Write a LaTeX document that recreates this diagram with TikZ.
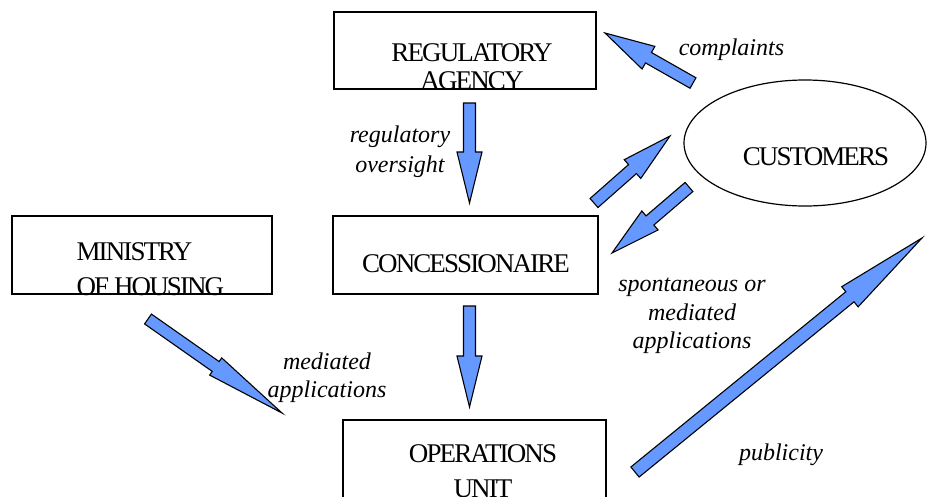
\documentclass[tikz,border=0pt]{standalone}
\usepackage{fontspec}
\setmainfont{Liberation Serif}
\newfontfamily\capsfont[LetterSpace=-7]{Liberation Serif}
\usepackage{tikz}
\usetikzlibrary{calc, shapes.geometric}
\definecolor{flowblue}{RGB}{102,153,255}
\tikzset{
    actor/.style={draw, line width=1.2pt, inner sep=0pt},
    crowd/.style={draw, ellipse, line width=1.2pt, inner sep=0pt},
    actortext/.style={font=\capsfont\fontsize{27}{28}\selectfont, align=center, inner sep=0pt},
    flowtext/.style={font=\itshape\fontsize{24}{28}\selectfont, align=center, inner sep=0pt},
    flowarrow/.style={draw, fill=flowblue, line width=1.1pt, line join=miter} }
% tail, tip, half shaft, half head, head length
\newcommand{\blockarrow}[5]{%
  \coordinate (ba-base) at ($(#2)!#5!(#1)$);
  \draw[flowarrow] ($(#1)!#3!90:(#2)$) -- ($(ba-base)!#3!90:(#2)$) --
      ($(ba-base)!#4!90:(#2)$) -- (#2) -- ($(ba-base)!#4!-90:(#2)$) --
      ($(ba-base)!#3!-90:(#2)$) -- ($(#1)!#3!-90:(#2)$) -- cycle;}

\begin{document}
\begin{tikzpicture}[x=1pt, y=-1pt]
      \useasboundingbox (0,0) rectangle (927,496);
      \clip (0,0) rectangle (927,496);
      % ---- boxes
      \node[actor, minimum width=262pt, minimum height=77pt] (agency) at (465,50.5) {};
      \node[actortext] (agency-t) at ($(agency)+(7,16)$) {REGULATORY\\AGENCY};
      \node[actor, minimum width=260pt, minimum height=78pt] (ministry) at (142,255) {};
      \node[actortext, align=left, anchor=west, font=\capsfont\fontsize{27}{35}\selectfont]
          (ministry-t) at ($(ministry.west)+(65,14)$) {MINISTRY\\OF HOUSING};
      \node[actor, minimum width=265pt, minimum height=78pt] (conc) at (465.5,255) {};
      \node[actortext] (conc-t) at ($(conc)+(0.5,9)$) {CONCESSIONAIRE};
      \node[actor, minimum width=263pt, minimum height=120pt] (ops) at (474.5,480) {};
      \node[actortext, font=\capsfont\fontsize{27}{35}\selectfont] (ops-t)
          at ($(ops)+(8.5,-8.5)$) {OPERATIONS\\UNIT};
      \node[crowd, minimum width=242pt, minimum height=126pt] (cust) at (805,143) {};
      \node[actortext] (cust-t) at ($(cust)+(11,13.5)$) {CUSTOMERS};
      % ---- labels
      \node[flowtext, anchor=base] (complaints) at (731.5,55) {complaints};
      \node[flowtext, font=\itshape\fontsize{24}{30}\selectfont] (oversight)
          at (400,152) {regulatory\\oversight};
      \node[flowtext] (med-left) at (327,378) {mediated\\applications};
      \node[flowtext, font=\itshape\fontsize{24}{28.5}\selectfont] (med-right)
          at (692,316) {spontaneous or\\mediated\\applications};
      \node[flowtext, anchor=base] (publicity) at (781,460) {publicity};
      % ---- arrow ends
      \coordinate (cmp-s) at (693,83);   \coordinate (cmp-e) at (605,33);
      \coordinate (reg-s) at (469.5,103); \coordinate (reg-e) at (469.5,203);
      \coordinate (up-s) at (594,203);   \coordinate (up-e) at (670,136);
      \coordinate (dn-s) at (689,187);   \coordinate (dn-e) at (612,253);
      \coordinate (ops-s) at (469.5,306); \coordinate (ops-e) at (469.5,407);
      \coordinate (min-s) at (148,319);  \coordinate (min-e) at (282,413);
      \coordinate (pub-s) at (635,472);  \coordinate (pub-e) at (922,238);
      % ---- arrows
      \blockarrow{cmp-s}{cmp-e}{6pt}{13pt}{50pt}
      \blockarrow{reg-s}{reg-e}{6pt}{12.5pt}{51pt}
      \blockarrow{up-s}{up-e}{6pt}{12.5pt}{50pt}
      \blockarrow{dn-s}{dn-e}{6pt}{12.5pt}{50pt}
      \blockarrow{ops-s}{ops-e}{6pt}{12.5pt}{51pt}
      \blockarrow{min-s}{min-e}{6pt}{10.5pt}{81pt}
      \blockarrow{pub-s}{pub-e}{6.5pt}{13pt}{93pt}
\end{tikzpicture}
\end{document}
